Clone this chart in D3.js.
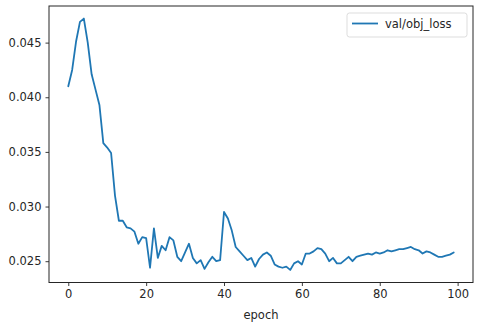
<!DOCTYPE html>
<html>
<head>
<meta charset="utf-8">
<script src="https://cdn.jsdelivr.net/npm/d3@7"></script>
<style>
  html, body { margin: 0; padding: 0; background: #fff; }
  svg { display: block; font-family: "DejaVu Sans", sans-serif; }
</style>
</head>
<body>
<div id="chart"></div>
<script>
// val/obj_loss per epoch
const epochs = d3.range(0, 100);
const valObjLoss = [
  0.0410, 0.0425, 0.0451, 0.0469, 0.0472, 0.0450, 0.0421, 0.0407, 0.0393, 0.0358,
  0.0354, 0.0349, 0.0310, 0.0287, 0.0287, 0.0281, 0.0280, 0.0277, 0.0266, 0.0272,
  0.0271, 0.0244, 0.0280, 0.0253, 0.0264, 0.0260, 0.0272, 0.0269, 0.0254, 0.0250,
  0.0258, 0.0266, 0.0253, 0.0248, 0.0251, 0.0243, 0.0249, 0.0254, 0.0250, 0.0251,
  0.0295, 0.0289, 0.0278, 0.0263, 0.0259, 0.0255, 0.0251, 0.0253, 0.0245, 0.0252,
  0.0256, 0.0258, 0.0255, 0.0247, 0.0245, 0.0244, 0.0245, 0.0242, 0.0248, 0.0250,
  0.0247, 0.0257, 0.0257, 0.0259, 0.0262, 0.0261, 0.0257, 0.0250, 0.0253, 0.0248,
  0.0248, 0.0251, 0.0254, 0.0250, 0.0254, 0.0255, 0.0256, 0.0257, 0.0256, 0.0258,
  0.0257, 0.0258, 0.0260, 0.0259, 0.0260, 0.0261, 0.0261, 0.0262, 0.0263, 0.0261,
  0.0260, 0.0257, 0.0259, 0.0258, 0.0256, 0.0254, 0.0254, 0.0255, 0.0256, 0.0258
];
const xTicks = [0, 20, 40, 60, 80, 100];
const yTicks = [0.025, 0.030, 0.035, 0.040, 0.045];
const seriesName = 'val/obj_loss';

const width = 480, height = 326;
const plot = { left: 49, right: 473, top: 6, bottom: 282.5 };
const lineColor = '#1f77b4';
const inkColor = '#262626';

const svg = d3.select('#chart').append('svg')
  .attr('width', width)
  .attr('height', height);

// matplotlib-style 5% margins
const xExt = d3.extent(epochs);
const xPad = (xExt[1] - xExt[0]) * 0.05;
const x = d3.scaleLinear()
  .domain([xExt[0] - xPad, xExt[1] + xPad])
  .range([plot.left, plot.right]);

const yExt = d3.extent(valObjLoss);
const yPad = (yExt[1] - yExt[0]) * 0.05;
const y = d3.scaleLinear()
  .domain([yExt[0] - yPad, yExt[1] + yPad])
  .range([plot.bottom, plot.top]);

// --- Axes ---
const xAxis = svg.append('g')
  .attr('transform', `translate(0,${plot.bottom})`)
  .call(d3.axisBottom(x).tickValues(xTicks).tickSize(3.5).tickPadding(4).tickFormat(d3.format('d')));

const yAxis = svg.append('g')
  .attr('transform', `translate(${plot.left},0)`)
  .call(d3.axisLeft(y).tickValues(yTicks).tickSize(3.5).tickPadding(4).tickFormat(d3.format('.3f')));

[xAxis, yAxis].forEach(g => {
  g.select('.domain').remove();
  g.selectAll('.tick line').attr('stroke', inkColor).attr('stroke-width', 0.9);
  g.selectAll('.tick text')
    .attr('fill', inkColor)
    .attr('font-size', 11.5)
    .attr('font-family', '"DejaVu Sans", sans-serif');
});

// Frame (spines)
svg.append('rect')
  .attr('x', plot.left)
  .attr('y', plot.top)
  .attr('width', plot.right - plot.left)
  .attr('height', plot.bottom - plot.top)
  .attr('fill', 'none')
  .attr('stroke', inkColor)
  .attr('stroke-width', 1);

// x label
svg.append('text')
  .attr('x', (plot.left + plot.right) / 2)
  .attr('y', 319)
  .attr('text-anchor', 'middle')
  .attr('font-size', 11.5)
  .attr('fill', inkColor)
  .text('epoch');

// --- Line ---
const line = d3.line()
  .x((d, i) => x(epochs[i]))
  .y(d => y(d));

svg.append('path')
  .datum(valObjLoss)
  .attr('fill', 'none')
  .attr('stroke', lineColor)
  .attr('stroke-width', 1.8)
  .attr('stroke-linejoin', 'round')
  .attr('stroke-linecap', 'round')
  .attr('d', line);

// --- Legend ---
const legend = svg.append('g').attr('transform', 'translate(347,13)');
legend.append('rect')
  .attr('width', 120)
  .attr('height', 24)
  .attr('rx', 2.5)
  .attr('fill', '#fff')
  .attr('fill-opacity', 0.8)
  .attr('stroke', '#d9d9d9')
  .attr('stroke-width', 0.9);
legend.append('line')
  .attr('x1', 5).attr('x2', 31)
  .attr('y1', 10.5).attr('y2', 10.5)
  .attr('stroke', lineColor)
  .attr('stroke-width', 1.8);
legend.append('text')
  .attr('x', 38)
  .attr('y', 14.5)
  .attr('font-size', 11.5)
  .attr('fill', inkColor)
  .text(seriesName);
</script>
</body>
</html>
